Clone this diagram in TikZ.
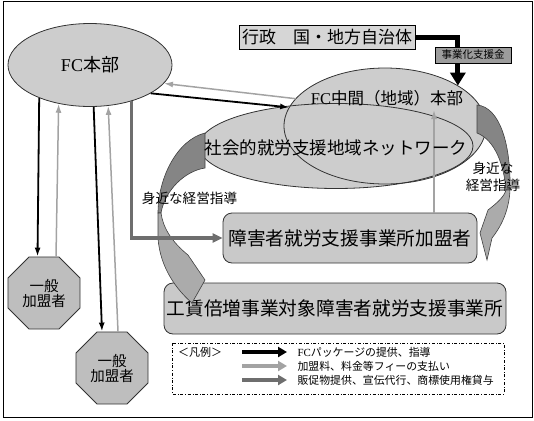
\documentclass[tikz,border=0pt]{standalone}
\usepackage{fontspec}
\setmainfont{Noto Sans CJK JP}
\newfontfamily\fcfont{Liberation Serif}
\usetikzlibrary{shapes.geometric,arrows.meta}

\definecolor{bubblegray}{HTML}{CDCDCD}
\definecolor{boxgray}{HTML}{C9C9C9}
\definecolor{octgray}{HTML}{BEBEBE}
\definecolor{govgray}{HTML}{D6D6D6}
\definecolor{fundgray}{HTML}{9C9C9C}
\definecolor{archdark}{HTML}{858585}
\definecolor{archlight}{HTML}{ABABAB}
\definecolor{feegray}{HTML}{A3A3A3}
\definecolor{promogray}{HTML}{6E6E6E}
\newcommand\jfs[2]{\fontsize{#1}{#2}\selectfont}

\begin{document}
\begin{tikzpicture}[x=1pt, y=-1pt, >={Latex[length=9pt,width=6pt]},
    bubble/.style={ellipse, fill=bubblegray, inner sep=0pt},
    rim/.style={draw=black!80, line width=0.8pt},
    member/.style={rectangle, rounded corners=9pt, rim, fill=boxgray, inner sep=0pt},
    general/.style={regular polygon, regular polygon sides=8, minimum size=78pt,
      rim, fill=octgray, inner sep=0pt, align=center, font=\jfs{14.5}{15}},
    pkg/.style={->, line width=1.8pt},
    fee/.style={->, line width=1.5pt, draw=feegray},
    promo/.style={-{Triangle[length=10pt,width=9pt]}, line width=3.2pt, draw=promogray},
    leg/.style={line width=3.6pt, -{Triangle[length=9pt,width=10pt]}},
    sweep/.style={draw=black!75, line width=0.6pt}]
  \useasboundingbox (0,0) rectangle (534,420);
  \draw[line width=1pt] (3,2) rectangle (532,417);

  % ellipses
  \node[bubble, rim, minimum width=164pt, minimum height=83pt, font=\jfs{18}{18}] (fc) at (90,65) {{\fcfont FC}本部};
  \node[bubble, minimum width=274pt, minimum height=85pt] (net) at (336,146) {};
  \node[bubble, minimum width=202pt, minimum height=116pt] (mid) at (385,126) {};
  \draw[rim] (net.center) ellipse [x radius=137pt, y radius=42.5pt];
  \draw[rim] (mid.center) ellipse [x radius=101pt, y radius=58pt];

  % government and fund
  \node[rectangle, draw, line width=1pt, fill=govgray, minimum width=176pt, minimum height=23pt,
    inner sep=0pt, font=\jfs{17}{17}] (gov) at (327,37.5) {行政　国・地方自治体};
  \draw[line width=5pt, -{Triangle[length=13pt,width=15pt]}] (gov.east) -| (mid.29);
  \node[rectangle, draw, line width=0.8pt, fill=fundgray, minimum width=76pt, minimum height=16pt,
    inner sep=0pt, font=\jfs{10.5}{10.5}] (fund) at (473,55) {事業化支援金};

  % members
  \node[member, minimum width=254pt, minimum height=50pt, font=\jfs{18.7}{19}] (shogai) at (350,238) {障害者就労支援事業所加盟者};
  \node[member, minimum width=342pt, minimum height=51pt, font=\jfs{18.7}{19}] (kouchin) at (335,308.5) {工賃倍増事業対象障害者就労支援事業所};
  \node[general] (gen1) at (44,293) {一般\\加盟者};
  \node[general] (gen2) at (112,368) {一般\\加盟者};

  % curved guidance arrows
  \filldraw[sweep, fill=archdark] (205,133) .. controls (177,140) and (158,178) .. (158,213)
    -- (161,213) .. controls (165,190) and (185,171) .. (205,168) -- cycle;
  \filldraw[sweep, fill=archlight] (158,213) -- (158,238) .. controls (160,268) and (177,290) .. (192,303)
    -- (205,280) -- (188,255) .. controls (172,242) and (163,228) .. (161,213) -- cycle;
  \filldraw[sweep, fill=archdark] (477,105) .. controls (500,107) and (511,145) .. (510,190)
    -- (506,190) .. controls (504,165) and (495,140) .. (477,133) -- cycle;
  \filldraw[sweep, fill=archlight] (510,190) .. controls (509,212) and (500,228) .. (492,238)
    -- (487,260) -- (480,233) -- (488,210) .. controls (497,203) and (504,197) .. (506,190) -- cycle;

  % flows
  \draw[pkg] (fc.213) -- ([xshift=-6.5pt]gen1.north);
  \draw[fee] ([xshift=12pt]gen1.north) -- (fc.231.7);
  \draw[pkg] (fc.275.7) -- ([xshift=-10pt]gen2.north);
  \draw[fee] ([xshift=6pt]gen2.north) -- (fc.294);
  \draw[promo] (fc.319.5) |- (shogai.west);
  \draw[fee] (mid.163) -- (fc.346);
  \draw[pkg] (fc.335) -- (mid.169.5);
  \coordinate (midin) at (434,110);
  \draw[fee] ([xshift=84pt]shogai.north) -- (midin);

  % labels
  \node[font=\jfs{16.5}{16.5}] (midlbl) at (387,98) {{\fcfont FC}中間（地域）本部};
  \node[font=\jfs{17.5}{17.5}] (netlbl) at (336,148) {社会的就労支援地域ネットワーク};
  \node[font=\jfs{13.6}{14}] (guideL) at (189.5,198) {身近な経営指導};
  \node[font=\jfs{13.6}{17}, align=center] (guideR) at (493,176.5) {身近な\\経営指導};

  % legend
  \draw[dash dot, line width=0.8pt] (172,343) rectangle (504,394);
  \node[font=\jfs{11}{11}] (legtitle) at (200,352) {＜凡例＞};
  \node[anchor=west, font=\jfs{10.9}{11}] (lg1) at (294,352) {{\fcfont FC}パッケージの提供、指導};
  \node[anchor=west, font=\jfs{10.9}{11}] (lg2) at (294,366) {加盟料、料金等フィーの支払い};
  \node[anchor=west, font=\jfs{10.9}{11}] (lg3) at (294,380) {販促物提供、宣伝代行、商標使用権貸与};
  \draw[leg] ([xshift=-52pt]lg1.west) -- ([xshift=-7pt]lg1.west);
  \draw[leg, draw=feegray, fill=feegray] ([xshift=-52pt]lg2.west) -- ([xshift=-7pt]lg2.west);
  \draw[leg, draw=promogray, fill=promogray] ([xshift=-52pt]lg3.west) -- ([xshift=-7pt]lg3.west);
\end{tikzpicture}
\end{document}
